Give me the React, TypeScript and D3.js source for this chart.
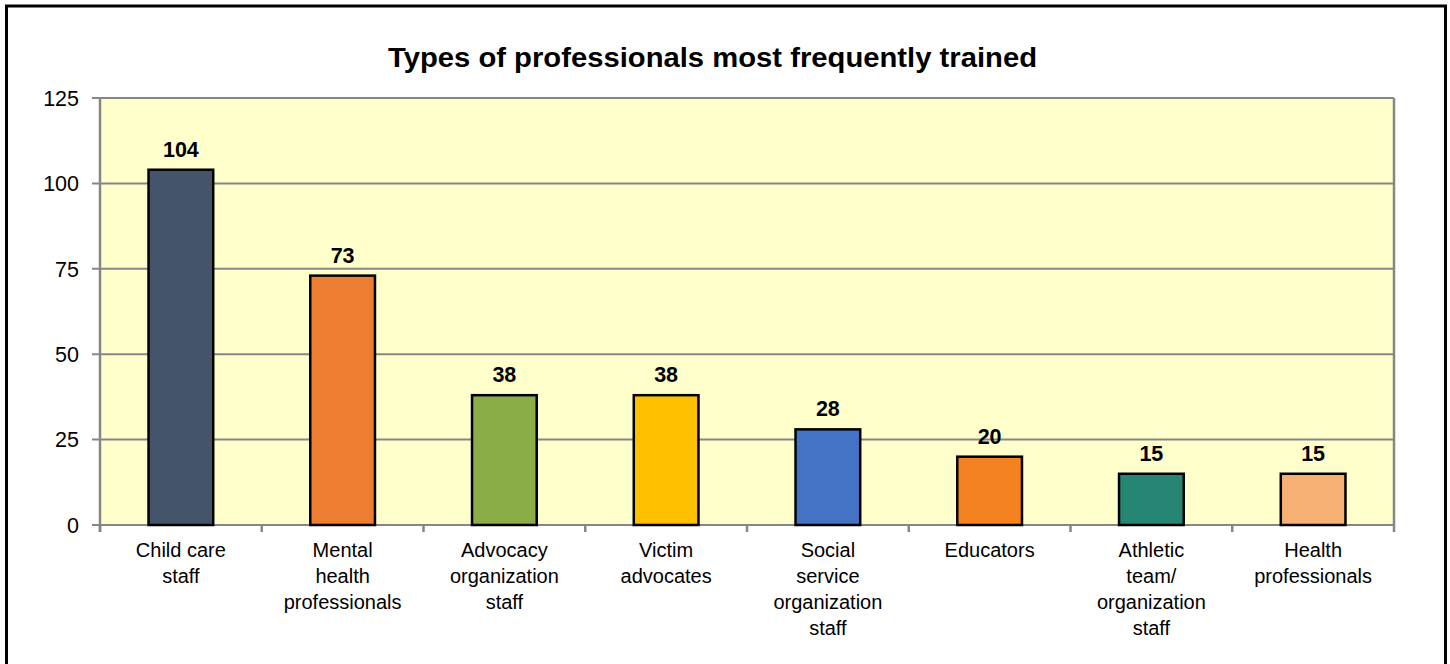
import React from "react";
import * as d3 from "d3";

const categories: string[][] = [
  ["Child care", "staff"],
  ["Mental", "health", "professionals"],
  ["Advocacy", "organization", "staff"],
  ["Victim", "advocates"],
  ["Social", "service", "organization", "staff"],
  ["Educators"],
  ["Athletic", "team/", "organization", "staff"],
  ["Health", "professionals"],
];
const values: number[] = [104, 73, 38, 38, 28, 20, 15, 15];
const colors: string[] = ["#44546A", "#ED7D31", "#8BAD47", "#FFC000", "#4472C4", "#F58220", "#268673", "#F6B074"];
const yTicks: number[] = [0, 25, 50, 75, 100, 125];
const title = "Types of professionals  most frequently trained";

export default function App() {
  const W = 1450, H = 664;
  const left = 100, right = 1394, top = 98, bottom = 525;
  const x = d3.scaleBand<number>().domain(d3.range(values.length)).range([left, right]).paddingInner(0).paddingOuter(0);
  const y = d3.scaleLinear().domain([0, 125]).range([bottom, top]);
  const bw = x.bandwidth() * 0.4;
  const font = "Liberation Sans, Arial, sans-serif";
  return (
    <svg width={W} height={H} style={{ position: "absolute", left: 0, top: 0 }} fontFamily={font}>
      <rect x={0} y={0} width={W} height={H} fill="#fff" />
      <rect x={6.5} y={6} width={1439} height={670} fill="#fff" stroke="#000" strokeWidth={3} />
      <text x={712.5} y={67} textAnchor="middle" fontSize={27} fontWeight="bold" textLength={649} lengthAdjust="spacingAndGlyphs">{title}</text>
      <rect x={left} y={top} width={right - left} height={bottom - top} fill="#FFFFCC" />
      {yTicks.map((t) => (
        <g key={t}>
          <line x1={92} x2={right} y1={y(t)} y2={y(t)} stroke="#868686" strokeWidth={2} />
          <text x={79} y={y(t)} dy="0.36em" textAnchor="end" fontSize={21.5}>{t}</text>
        </g>
      ))}
      <line x1={left} x2={left} y1={top} y2={bottom + 7} stroke="#868686" strokeWidth={2.5} />
      <line x1={right} x2={right} y1={top} y2={bottom} stroke="#868686" strokeWidth={2.5} />
      {d3.range(values.length + 1).map((i) => {
        const xx = left + i * x.step();
        return <line key={i} x1={xx} x2={xx} y1={bottom} y2={bottom + 7} stroke="#868686" strokeWidth={2.5} />;
      })}
      {values.map((v, i) => {
        const cx = (x(i) as number) + x.bandwidth() / 2;
        return (
          <g key={i}>
            <rect x={cx - bw / 2} y={y(v)} width={bw} height={bottom - y(v)} fill={colors[i]} stroke="#000" strokeWidth={2.5} />
            <text x={cx} y={y(v) - 13} textAnchor="middle" fontSize={21.5} fontWeight="bold">{v}</text>
            <text x={cx} y={557} textAnchor="middle" fontSize={20}>
              {categories[i].map((l, j) => (
                <tspan key={j} x={cx} dy={j === 0 ? 0 : 26}>{l}</tspan>
              ))}
            </text>
          </g>
        );
      })}
    </svg>
  );
}
